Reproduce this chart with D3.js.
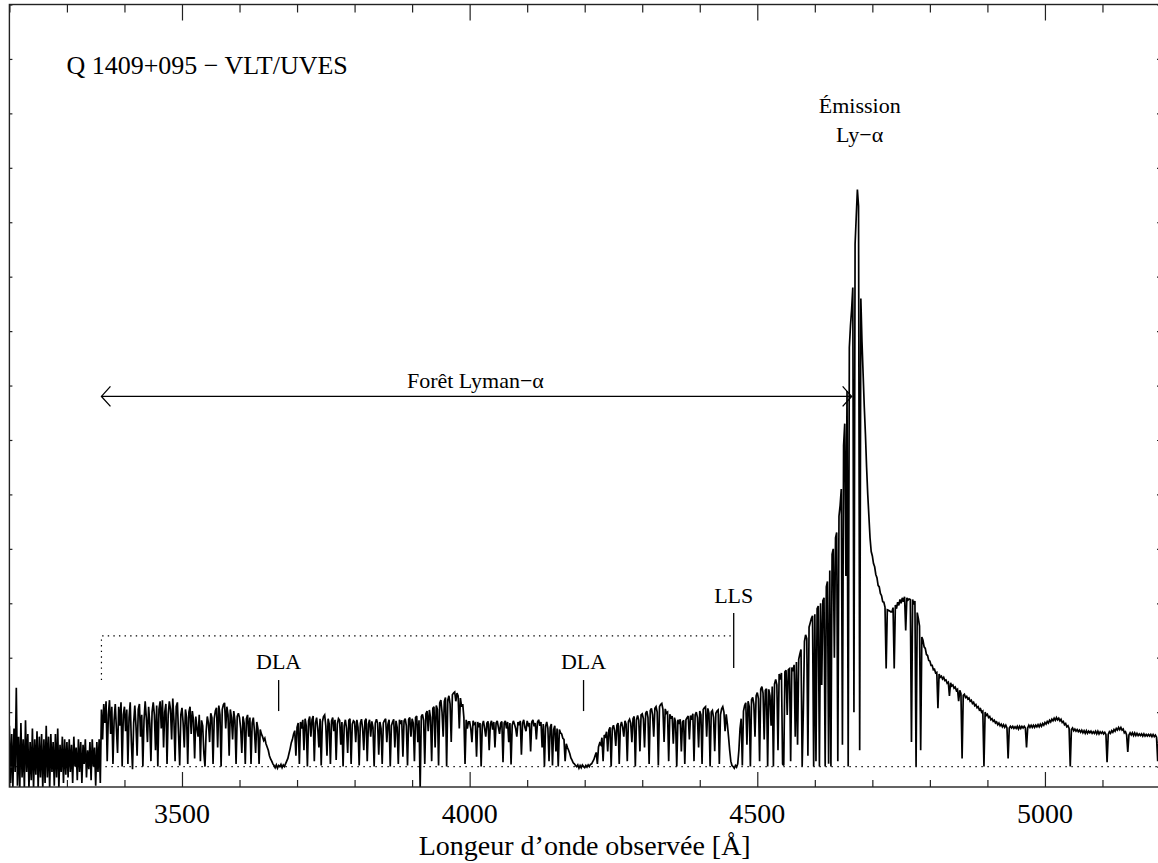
<!DOCTYPE html>
<html><head><meta charset="utf-8">
<script src="https://cdn.jsdelivr.net/npm/d3@7"></script>
<style>
body{margin:0;background:#fff}
svg{display:block}
text{font-family:"Liberation Serif","Times New Roman","DejaVu Serif",serif;fill:#000}
</style>
</head><body>
<svg id="chart" width="1158" height="863" font-family="Liberation Serif, Times New Roman, DejaVu Serif, serif"></svg>
<script>
// ---------- DATA ----------
const lambdaStart = 3200;   // Å
const lambdaStep = 2;       // Å
// flux (arbitrary units, tick = 1) sampled every 2 Å from 3200 to 5200 Å
const flux = [
// 3200
0.75,-0.3,0.6,-0.4,0.7,-0.1,1.45,-0.35,0.55,-0.4,
0.8,-0.2,0.5,-0.4,0.85,-0.1,0.6,-0.4,0.45,-0.25,
0.7,-0.4,0.5,-0.15,0.65,-0.4,0.55,-0.2,0.6,-0.4,
0.5,-0.3,0.75,-0.2,0.55,-0.4,0.6,-0.1,0.45,-0.35,
0.6,-0.2,0.7,-0.4,0.4,-0.1,0.55,-0.3,0.5,-0.15,
// 3300
0.45,-0.2,0.5,-0.1,0.4,-0.3,0.55,0.0,0.35,-0.25,
0.5,-0.1,0.45,-0.3,0.4,0.05,0.5,-0.2,0.3,-0.05,
0.45,-0.25,0.5,0.0,0.35,-0.35,0.45,-0.1,0.5,-0.3,
1.05,0.5,1.15,0.8,1.2,0.1,0.95,1.22,0.6,1.1,
0.05,0.85,1.15,0.7,0.25,1.1,0.75,1.18,0.0,0.95,
// 3400
1.1,0.65,1.05,0.05,0.9,1.18,0.45,-0.05,0.8,1.12,
0.75,0.2,1.05,1.15,0.55,0.95,0.0,0.85,1.2,0.9,
0.45,1.1,0.8,0.1,1.0,1.18,0.95,0.3,1.12,0.0,
1.05,1.2,0.7,1.22,0.35,1.0,1.15,0.05,0.95,1.2,
1.05,0.5,1.25,0.85,0.1,1.1,1.18,0.6,0.02,0.95,
// 3500
1.08,0.8,0.35,1.05,0.9,0.05,1.0,1.1,0.6,1.02,
0.85,0.15,0.92,0.7,0.55,0.95,0.1,0.85,0.75,0.25,
0.0,0.65,0.92,0.8,0.45,0.98,0.9,0.05,0.88,1.02,
1.08,0.35,1.12,0.95,0.0,1.05,1.14,1.17,0.7,1.1,
0.95,0.2,1.05,0.9,0.5,1.02,0.85,0.05,0.92,0.98,
// 3600
0.9,0.7,0.25,0.92,0.8,0.05,0.88,0.95,0.55,0.9,
0.05,0.8,0.9,0.65,0.25,0.82,0.7,0.05,0.68,0.6,
0.55,0.48,0.52,0.42,0.36,0.3,0.2,0.14,0.1,0.05,
0.02,-0.02,0.03,-0.03,0.02,0.0,0.04,-0.02,0.03,0.0,
0.05,0.1,0.15,0.24,0.33,0.44,0.5,0.6,0.66,0.2,
// 3700
0.72,0.8,0.05,0.82,0.7,0.86,0.3,0.88,0.75,0.0,
0.84,0.92,0.55,0.86,0.93,0.1,0.8,0.9,0.7,0.35,
0.88,0.02,0.82,0.92,0.95,0.75,0.2,0.88,0.78,0.05,
0.84,0.9,0.65,0.86,0.12,0.78,0.88,0.85,0.4,0.82,
0.0,0.75,0.86,0.7,0.25,0.85,0.88,0.05,0.78,0.84,
// 3800
0.82,0.45,0.86,0.72,0.02,0.8,0.87,0.7,0.3,0.84,
0.88,0.1,0.78,0.86,0.55,0.83,0.72,0.0,0.8,0.87,
0.8,0.22,0.82,0.7,0.05,0.8,0.85,0.88,0.45,0.78,
0.86,0.0,0.75,0.82,0.87,0.35,0.84,0.72,0.05,0.86,
0.78,0.85,0.18,0.84,0.88,0.75,0.02,0.87,0.9,0.55,
// 3900
0.88,0.8,0.1,0.9,0.93,0.45,0.85,-0.4,0.92,0.96,
0.85,0.05,0.97,1.02,0.65,1.04,0.9,0.1,1.07,1.1,
0.35,1.12,1.05,0.02,1.17,1.22,1.0,0.55,1.2,1.27,
0.0,1.22,1.3,1.15,0.45,1.32,1.35,1.37,1.2,1.35,
1.3,0.7,1.26,1.1,1.15,0.9,0.05,0.86,0.7,0.82,
// 4000
0.82,0.7,0.45,0.84,0.78,0.8,0.18,0.82,0.72,0.8,
0.0,0.76,0.84,0.7,0.55,0.8,0.83,0.3,0.78,0.84,
0.68,0.82,0.35,0.8,0.84,0.72,0.6,0.8,0.83,0.08,
0.8,0.84,0.7,0.82,0.45,0.8,0.04,0.76,0.84,0.78,
0.7,0.55,0.82,0.76,0.84,0.22,0.8,0.86,0.72,0.65,
// 4100
0.84,0.76,0.8,0.28,0.82,0.86,0.74,0.8,0.5,0.82,
0.86,0.75,0.82,0.35,0.78,0.0,0.74,0.82,0.7,0.1,
0.72,0.78,0.02,0.68,0.75,0.28,0.7,0.0,0.68,0.62,
0.6,0.52,0.5,0.1,0.42,0.35,0.3,0.24,0.16,0.12,
0.07,0.05,0.02,0.0,0.03,-0.03,0.02,-0.02,0.03,0.0,
// 4200
-0.02,0.02,-0.01,0.03,0.0,0.04,0.05,0.09,0.13,0.2,
0.26,0.05,0.36,0.43,0.4,0.53,0.1,0.58,0.55,0.64,
0.28,0.67,0.72,0.0,0.7,0.76,0.66,0.38,0.76,0.8,
0.05,0.74,0.82,0.72,0.55,0.84,0.78,0.1,0.83,0.87,
0.8,0.45,0.88,0.92,0.0,0.86,0.94,0.85,0.28,0.95,
// 4300
0.97,0.88,0.35,0.98,1.02,0.9,0.05,1.03,1.07,0.95,
0.55,1.07,1.1,1.0,0.02,1.1,1.14,1.16,1.05,0.45,
1.06,0.98,1.0,0.1,0.96,0.88,0.93,0.42,0.9,0.82,
0.0,0.86,0.78,0.87,0.28,0.82,0.85,0.05,0.86,0.9,
0.93,0.5,0.94,0.86,0.97,0.1,0.95,1.0,0.9,0.35,
// 4400
1.02,0.95,0.05,1.05,1.08,1.1,0.55,1.07,0.98,0.0,
1.0,1.03,0.9,0.28,0.98,1.02,1.04,0.05,0.95,1.06,
1.1,1.0,0.65,0.96,0.78,0.55,0.3,0.1,0.02,0.0,
-0.03,0.02,-0.01,0.05,0.3,0.7,0.88,0.02,1.02,1.12,
1.17,0.4,1.2,1.1,0.0,1.23,1.27,1.15,0.55,1.3,
// 4500
1.36,1.25,0.1,1.42,1.47,1.35,0.5,1.4,1.43,0.0,
1.42,1.3,0.75,1.47,0.0,1.52,1.6,1.5,0.3,1.7,
1.6,1.72,0.05,0.02,1.74,1.77,0.95,1.78,1.8,0.1,
1.82,1.75,1.87,0.55,1.92,0.4,1.97,2.07,2.15,0.0,
1.0,2.3,2.42,2.35,0.2,2.56,2.64,2.72,2.77,0.0,
// 4600
2.8,0.1,2.9,2.95,0.0,3.0,1.5,3.05,3.1,0.0,
3.3,3.4,0.05,3.6,0.0,3.9,4.0,2.0,4.2,4.3,
0.1,4.6,4.8,5.1,0.4,5.9,6.3,3.5,6.9,0.0,
7.7,8.1,8.4,8.8,1.0,9.6,10.1,10.6,10.3,0.3,
8.6,7.8,7.2,6.6,6.1,5.5,5.0,4.6,4.2,3.95,
// 4700
3.87,3.73,3.67,3.53,3.47,3.33,3.3,3.18,3.14,3.03,
3.02,2.93,1.8,2.88,2.87,2.86,2.84,2.84,2.92,1.8,
2.97,2.9,3.02,2.96,3.07,3.0,3.1,3.03,3.12,2.5,
3.1,3.06,3.08,3.07,0.45,3.07,2.98,3.04,0.0,2.83,
2.72,2.58,0.3,2.38,2.32,2.2,2.17,2.06,2.04,1.95,
// 4800
1.94,1.86,1.86,1.78,1.79,1.72,1.73,1.07,1.7,1.64,
1.66,1.61,1.64,1.58,1.59,1.53,1.55,1.3,1.54,1.48,
1.5,1.44,1.46,1.4,1.42,1.2,1.4,1.34,0.15,1.31,
1.33,1.27,1.29,1.24,1.26,1.2,1.22,1.16,1.18,1.12,
1.14,1.08,1.1,1.04,1.06,1.0,1.02,0.0,1.0,0.94,
// 4900
0.96,0.9,0.92,0.86,0.88,0.83,0.85,0.8,0.82,0.77,
0.8,0.75,0.78,0.73,0.77,0.72,0.76,0.71,0.15,0.71,
0.74,0.71,0.74,0.7,0.73,0.7,0.74,0.69,0.74,0.7,
0.74,0.71,0.74,0.71,0.35,0.71,0.76,0.72,0.76,0.72,
0.76,0.72,0.76,0.73,0.77,0.73,0.78,0.74,0.79,0.76,
// 5000
0.81,0.78,0.83,0.8,0.85,0.82,0.87,0.84,0.89,0.85,
0.9,0.86,0.89,0.84,0.87,0.81,0.83,0.77,0.79,0.73,
0.75,0.7,0.0,0.68,0.71,0.66,0.69,0.65,0.68,0.64,
0.67,0.63,0.67,0.62,0.66,0.61,0.66,0.61,0.65,0.62,
0.65,0.61,0.64,0.61,0.65,0.6,0.65,0.6,0.64,0.61,
// 5100
0.64,0.6,0.63,0.59,0.08,0.59,0.64,0.61,0.66,0.63,
0.68,0.65,0.7,0.67,0.72,0.68,0.72,0.67,0.69,0.62,
0.64,0.58,0.27,0.58,0.62,0.58,0.62,0.57,0.62,0.57,
0.61,0.57,0.6,0.57,0.6,0.56,0.6,0.56,0.59,0.56,
0.59,0.56,0.59,0.55,0.59,0.55,0.58,0.54,0.1,0.54,
// 5200
0.57
];

const xMajorTicks = [3500, 4000, 4500, 5000];
const xMajorLabels = ["3500", "4000", "4500", "5000"];
const xMinorTicks = [3200,3300,3400,3600,3700,3800,3900,4100,4200,4300,4400,4600,4700,4800,4900,5100,5200];
const yTicks = [0,1,2,3,4,5,6,7,8,9,10,11,12,13,14];

const titleText = "Q 1409+095 − VLT/UVES";
const xAxisTitle = "Longeur d’onde observée [Å]";
const dlaPositions = [3668, 4198];
const dlaLabels = ["DLA", "DLA"];
const llsPosition = 4459;
const forestStart = 3360, forestEnd = 4664;
const emissionPeak = 4678;

// ---------- LAYOUT ----------
const FONT = "'Liberation Serif','Times New Roman','DejaVu Serif',serif";
const svg = d3.select("#chart");
const L = 9.4, R = 1160, T = 4.5, B = 787;
const x = d3.scaleLinear().domain([3200, 5200]).range([L, R]);
const y = d3.scaleLinear().domain([-0.375, 14]).range([B, T]);

const data = flux.map((f, i) => [lambdaStart + i * lambdaStep, f]);

svg.append("defs").append("clipPath").attr("id", "clip")
  .append("rect").attr("x", L).attr("y", T).attr("width", R - L).attr("height", B - T);

// zero level (dotted)
svg.append("line")
  .attr("x1", L).attr("x2", R).attr("y1", y(0)).attr("y2", y(0))
  .attr("stroke", "#000").attr("stroke-width", 1.2).attr("stroke-dasharray", "1.4,4.6");

// spectrum
svg.append("path").datum(data)
  .attr("clip-path", "url(#clip)")
  .attr("fill", "none").attr("stroke", "#000").attr("stroke-width", 1.7)
  .attr("stroke-linejoin", "miter").attr("stroke-miterlimit", 3)
  .attr("d", d3.line().x(d => x(d[0])).y(d => y(d[1])));

// axes (ticks inward)
function addAxis(gen, tr) {
  const g = svg.append("g").attr("transform", tr).call(gen);
  g.select(".domain").remove();
  g.selectAll("line").attr("stroke", "#222").attr("stroke-width", 1.2);
  g.selectAll("text").remove();
  return g;
}
addAxis(d3.axisBottom(x).tickValues(xMajorTicks).tickSize(-15).tickSizeOuter(0), `translate(0,${B})`);
addAxis(d3.axisBottom(x).tickValues(xMinorTicks).tickSize(-7).tickSizeOuter(0), `translate(0,${B})`);
addAxis(d3.axisTop(x).tickValues(xMajorTicks).tickSize(-16).tickSizeOuter(0), `translate(0,${T})`);
addAxis(d3.axisTop(x).tickValues(xMinorTicks).tickSize(-8).tickSizeOuter(0), `translate(0,${T})`);
addAxis(d3.axisLeft(y).tickValues(yTicks).tickSize(-3).tickSizeOuter(0), `translate(${L},0)`);
addAxis(d3.axisRight(y).tickValues(yTicks).tickSize(-3).tickSizeOuter(0), `translate(${R},0)`);

// frame
svg.append("rect").attr("x", L).attr("y", T).attr("width", R - L).attr("height", B - T)
  .attr("fill", "none").attr("stroke", "#222").attr("stroke-width", 1.4);

function txt(xp, yp, size, s, anchor) {
  return svg.append("text").attr("x", xp).attr("y", yp).attr("font-size", size)
    .attr("font-family", FONT).attr("text-anchor", anchor || "middle").text(s);
}

// tick labels
xMajorTicks.forEach((d, i) => txt(x(d), 823, 28, xMajorLabels[i]));

// axis title
txt((L + R) / 2, 855, 28, xAxisTitle);

// title
txt(x(3300) - 0.5, y(12.72), 26, titleText, "start");

// Emission label
txt(x(emissionPeak), y(12.0), 22, "Émission");
txt(x(emissionPeak), y(11.47), 22, "Ly−α");

// Forest arrow
const ay = y(6.8);
const ann = svg.append("g").attr("stroke", "#000").attr("fill", "none").attr("stroke-width", 1.3);
ann.append("line").attr("x1", x(forestStart)).attr("x2", x(forestEnd)).attr("y1", ay).attr("y2", ay);
ann.append("path").attr("d", `M${x(forestStart) + 9},${ay - 10} L${x(forestStart)},${ay} L${x(forestStart) + 9},${ay + 10}`);
ann.append("path").attr("d", `M${x(forestEnd) - 9},${ay - 10} L${x(forestEnd)},${ay} L${x(forestEnd) - 9},${ay + 10}`);
txt(x(4010), y(6.96), 22, "Forêt Lyman−α");

// dotted bracket toward LLS
const by = y(2.4);
svg.append("path")
  .attr("d", `M${x(forestStart)},${y(1.59)} L${x(forestStart)},${by} L${x(llsPosition)},${by}`)
  .attr("fill", "none").attr("stroke", "#000").attr("stroke-width", 1.2).attr("stroke-dasharray", "1.4,4.2");

// LLS marker
svg.append("line").attr("x1", x(llsPosition)).attr("x2", x(llsPosition))
  .attr("y1", y(2.82)).attr("y2", y(1.81)).attr("stroke", "#000").attr("stroke-width", 1.3);
txt(x(llsPosition), y(3.0), 22, "LLS");

// DLA markers
dlaPositions.forEach((p, i) => {
  svg.append("line").attr("x1", x(p)).attr("x2", x(p))
    .attr("y1", y(1.59)).attr("y2", y(1.02)).attr("stroke", "#000").attr("stroke-width", 1.3);
  txt(x(p), y(1.79), 22, dlaLabels[i]);
});
</script>
</body></html>
